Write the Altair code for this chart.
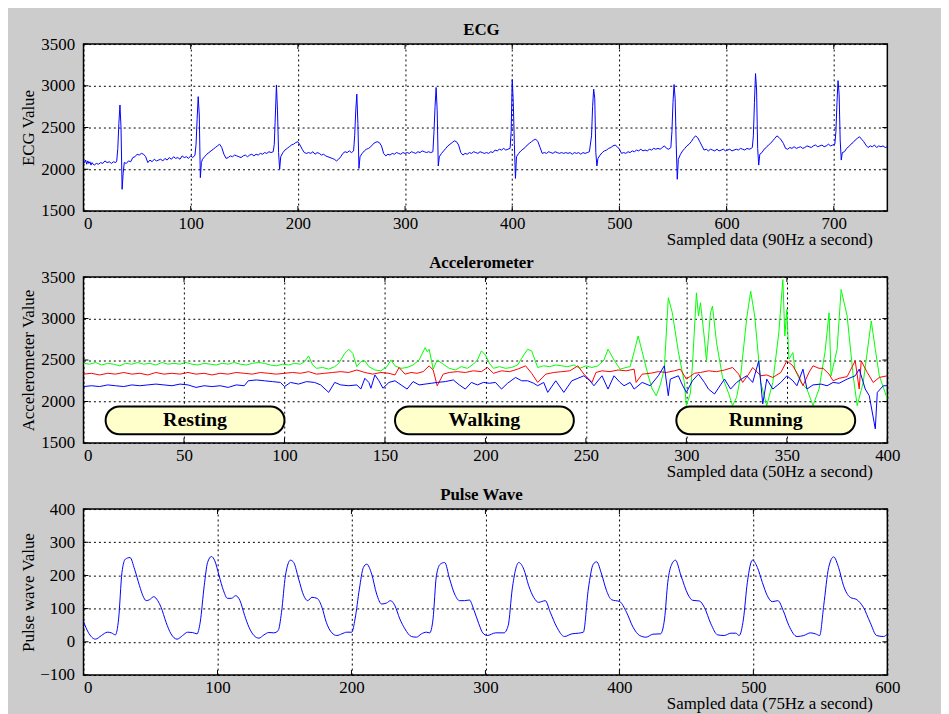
import altair as alt
import pandas as pd

FONT = "Liberation Serif"

# ---------------- ECG (sample index, value) ----------------
ECG = [
    (0, 2100), (1, 2080), (2, 2110), (3, 2060), (4, 2100), (5, 2070), (6, 2090), (7, 2050), (8, 2080),
    (9, 2060), (10, 2050), (12, 2070), (14, 2060), (16, 2080), (18, 2070), (20, 2100), (22, 2080),
    (24, 2090), (26, 2070), (28, 2090), (30, 2080), (31, 2100), (32, 2250), (33, 2550), (34, 2770),
    (35, 2500), (36, 1760), (37, 1950), (38, 2080), (40, 2070), (42, 2100), (44, 2090), (46, 2140),
    (48, 2150), (50, 2180), (52, 2170), (54, 2190), (56, 2180), (58, 2150), (60, 2080), (62, 2110),
    (64, 2090), (66, 2120), (68, 2100), (70, 2110), (72, 2120), (74, 2100), (76, 2130), (78, 2110),
    (80, 2140), (82, 2120), (84, 2150), (86, 2130), (88, 2140), (90, 2120), (92, 2160), (94, 2140),
    (96, 2150), (98, 2130), (100, 2160), (102, 2140), (104, 2170), (105, 2300), (106, 2600),
    (107, 2870), (108, 2650), (109, 1900), (110, 2080), (111, 2120), (113, 2150), (115, 2180),
    (117, 2200), (119, 2220), (121, 2240), (123, 2260), (125, 2280), (127, 2300), (129, 2260),
    (131, 2180), (133, 2130), (135, 2140), (137, 2160), (139, 2150), (141, 2170), (143, 2160),
    (145, 2150), (147, 2140), (149, 2160), (151, 2170), (153, 2150), (155, 2170), (157, 2180),
    (159, 2160), (161, 2180), (163, 2170), (165, 2190), (167, 2180), (169, 2200), (171, 2190),
    (173, 2210), (175, 2200), (177, 2210), (178, 2300), (179, 2650), (180, 3010), (181, 2700),
    (182, 2200), (183, 2000), (184, 2150), (186, 2200), (188, 2230), (190, 2250), (192, 2270),
    (194, 2290), (196, 2300), (198, 2320), (200, 2330), (202, 2290), (204, 2240), (206, 2200),
    (208, 2190), (210, 2200), (212, 2190), (214, 2210), (216, 2180), (218, 2200), (220, 2190),
    (222, 2170), (224, 2180), (226, 2160), (228, 2150), (230, 2140), (232, 2130), (234, 2120),
    (236, 2100), (238, 2120), (240, 2150), (242, 2190), (244, 2210), (246, 2200), (248, 2220),
    (250, 2200), (252, 2220), (253, 2400), (254, 2700), (255, 2900), (256, 2550), (257, 2010),
    (258, 2150), (260, 2190), (262, 2220), (264, 2240), (266, 2250), (268, 2270), (270, 2300),
    (272, 2320), (274, 2330), (276, 2320), (278, 2280), (280, 2190), (282, 2160), (284, 2180),
    (286, 2170), (288, 2190), (290, 2180), (292, 2200), (294, 2190), (296, 2180), (298, 2200),
    (300, 2190), (302, 2200), (304, 2190), (306, 2210), (308, 2200), (310, 2190), (312, 2210),
    (314, 2200), (316, 2220), (318, 2210), (320, 2200), (322, 2210), (324, 2200), (326, 2210),
    (327, 2450), (328, 2750), (329, 2980), (330, 2700), (331, 2040), (332, 2150), (334, 2190),
    (336, 2220), (338, 2250), (340, 2280), (342, 2300), (344, 2320), (346, 2340), (348, 2330),
    (350, 2290), (352, 2200), (354, 2170), (356, 2190), (358, 2180), (360, 2200), (362, 2190),
    (364, 2210), (366, 2200), (368, 2190), (370, 2210), (372, 2200), (374, 2190), (376, 2200),
    (378, 2190), (380, 2210), (382, 2200), (384, 2230), (386, 2220), (388, 2240), (390, 2230),
    (392, 2250), (394, 2230), (396, 2240), (398, 2250), (399, 2450), (400, 3075), (401, 2800),
    (402, 2300), (403, 1890), (404, 2150), (406, 2190), (408, 2220), (410, 2240), (412, 2260),
    (414, 2290), (416, 2310), (418, 2330), (420, 2350), (422, 2360), (424, 2330), (426, 2260),
    (428, 2190), (430, 2200), (432, 2190), (434, 2210), (436, 2200), (438, 2190), (440, 2210),
    (442, 2200), (444, 2190), (446, 2200), (448, 2190), (450, 2200), (452, 2190), (454, 2200),
    (456, 2180), (458, 2200), (460, 2190), (462, 2200), (464, 2180), (466, 2200), (468, 2190),
    (470, 2200), (472, 2210), (474, 2400), (475, 2750), (476, 2960), (477, 2850), (478, 2200),
    (479, 2040), (480, 2130), (482, 2170), (484, 2200), (486, 2220), (488, 2230), (490, 2250),
    (492, 2260), (494, 2280), (496, 2290), (498, 2270), (500, 2240), (502, 2190), (504, 2200),
    (506, 2190), (508, 2210), (510, 2200), (512, 2220), (514, 2210), (516, 2230), (518, 2220),
    (520, 2240), (522, 2220), (524, 2230), (526, 2220), (528, 2240), (530, 2230), (532, 2250),
    (534, 2240), (536, 2250), (538, 2240), (540, 2260), (542, 2280), (544, 2250), (546, 2240),
    (548, 2260), (549, 2450), (550, 2800), (551, 3015), (552, 2850), (553, 2300), (554, 1880),
    (555, 2120), (557, 2180), (559, 2220), (561, 2250), (563, 2280), (565, 2300), (567, 2330),
    (569, 2370), (571, 2400), (573, 2380), (575, 2330), (577, 2280), (579, 2230), (581, 2240),
    (583, 2220), (585, 2240), (587, 2230), (589, 2220), (591, 2240), (593, 2220), (595, 2230),
    (597, 2240), (599, 2220), (601, 2230), (603, 2240), (605, 2220), (607, 2230), (609, 2240),
    (611, 2230), (613, 2250), (615, 2240), (617, 2230), (619, 2250), (621, 2240), (623, 2250),
    (624, 2260), (625, 2400), (626, 2800), (627, 3146), (628, 2950), (629, 2250), (630, 2050),
    (631, 2180), (633, 2200), (635, 2240), (637, 2260), (639, 2290), (641, 2310), (643, 2340),
    (645, 2370), (647, 2400), (649, 2380), (651, 2350), (653, 2310), (655, 2250), (657, 2240),
    (659, 2260), (661, 2250), (663, 2270), (665, 2250), (667, 2260), (669, 2270), (671, 2250),
    (673, 2260), (675, 2280), (677, 2270), (679, 2260), (681, 2280), (683, 2290), (685, 2270),
    (687, 2280), (689, 2290), (691, 2270), (693, 2280), (695, 2300), (697, 2280), (699, 2290),
    (701, 2300), (702, 2450), (703, 2800), (704, 3062), (705, 2900), (706, 2350), (707, 2110),
    (708, 2200), (710, 2210), (712, 2250), (714, 2270), (716, 2300), (718, 2320), (720, 2350),
    (722, 2370), (724, 2390), (726, 2360), (728, 2330), (730, 2290), (732, 2260), (734, 2280),
    (736, 2270), (738, 2290), (740, 2260), (742, 2280), (744, 2270), (746, 2280), (748, 2260),
    (750, 2270),
]

# ---------------- Accelerometer (three axes) ----------------
ACC_GREEN = [
    (0, 2460), (3, 2450), (6, 2470), (9, 2440), (12, 2460), (15, 2450), (18, 2430), (21, 2460),
    (24, 2450), (27, 2470), (30, 2450), (33, 2460), (36, 2440), (39, 2470), (42, 2450), (45, 2460),
    (48, 2450), (51, 2470), (54, 2450), (57, 2440), (60, 2460), (63, 2450), (66, 2440), (69, 2460),
    (72, 2450), (75, 2470), (78, 2450), (81, 2440), (84, 2460), (87, 2470), (90, 2460), (93, 2440),
    (96, 2430), (99, 2450), (102, 2440), (105, 2460), (108, 2450), (110, 2480), (112, 2550),
    (114, 2440), (116, 2400), (119, 2410), (122, 2390), (125, 2420), (127, 2460), (130, 2580),
    (132, 2630), (134, 2580), (136, 2420), (138, 2480), (140, 2490), (142, 2420), (145, 2380),
    (148, 2370), (151, 2420), (153, 2500), (155, 2430), (158, 2400), (161, 2410), (164, 2440),
    (167, 2500), (170, 2650), (171, 2600), (172, 2630), (174, 2390), (176, 2500), (179, 2450),
    (182, 2400), (185, 2380), (188, 2420), (191, 2400), (194, 2450), (196, 2500), (198, 2610),
    (200, 2560), (202, 2460), (204, 2400), (207, 2420), (210, 2400), (213, 2410), (216, 2440),
    (218, 2520), (221, 2630), (223, 2610), (226, 2410), (229, 2430), (232, 2420), (235, 2440),
    (238, 2430), (241, 2420), (244, 2440), (247, 2400), (250, 2430), (253, 2410), (256, 2430),
    (259, 2500), (261, 2630), (264, 2500), (267, 2390), (270, 2410), (272, 2420), (274, 2600),
    (276, 2790), (278, 2600), (281, 2310), (283, 2150), (285, 2070), (287, 2200), (289, 2390),
    (291, 3250), (293, 3070), (296, 2600), (299, 2230), (300, 1950), (302, 2100), (303, 2430),
    (305, 3310), (306, 3030), (307, 3190), (309, 2750), (310, 2490), (312, 3070), (313, 3150),
    (315, 2710), (318, 2290), (321, 2100), (323, 1950), (325, 2050), (327, 2310), (330, 3000),
    (332, 3330), (334, 3030), (337, 2230), (340, 1950), (343, 2230), (346, 2830), (348, 3470),
    (349, 2790), (350, 3110), (351, 2510), (353, 2590), (354, 2390), (357, 2230), (360, 2150),
    (363, 1950), (366, 2150), (369, 2600), (371, 3070), (372, 2310), (375, 2630), (377, 3350),
    (380, 3030), (383, 2310), (385, 1950), (388, 2230), (392, 2970), (394, 2630), (396, 2310),
    (400, 2030),
]

ACC_RED = [
    (0, 2330), (4, 2340), (8, 2320), (12, 2340), (16, 2330), (20, 2350), (24, 2330), (28, 2340),
    (32, 2320), (36, 2350), (40, 2330), (44, 2340), (48, 2330), (52, 2350), (56, 2330), (60, 2340),
    (64, 2320), (68, 2340), (72, 2330), (76, 2350), (80, 2340), (84, 2330), (88, 2350), (92, 2340),
    (96, 2330), (100, 2340), (104, 2350), (108, 2340), (112, 2360), (116, 2330), (120, 2340),
    (124, 2350), (128, 2360), (132, 2350), (136, 2380), (140, 2350), (144, 2330), (148, 2350),
    (152, 2340), (155, 2320), (157, 2410), (160, 2330), (163, 2350), (166, 2340), (169, 2360),
    (172, 2430), (174, 2380), (176, 2190), (179, 2330), (182, 2350), (186, 2360), (190, 2350),
    (194, 2370), (198, 2360), (201, 2410), (204, 2340), (208, 2370), (212, 2360), (216, 2390),
    (220, 2430), (223, 2340), (226, 2230), (230, 2330), (234, 2350), (238, 2360), (242, 2370),
    (246, 2430), (249, 2330), (253, 2230), (255, 2350), (258, 2370), (262, 2360), (266, 2380),
    (270, 2370), (274, 2390), (275, 2230), (278, 2330), (282, 2340), (286, 2360), (290, 2350),
    (294, 2370), (297, 2390), (300, 2270), (304, 2340), (307, 2350), (311, 2370), (315, 2360),
    (319, 2380), (323, 2410), (326, 2330), (328, 2230), (331, 2330), (333, 2410), (337, 2310),
    (340, 2320), (343, 2290), (347, 2350), (350, 2490), (353, 2430), (356, 2300), (358, 2190),
    (361, 2350), (363, 2430), (366, 2400), (368, 2400), (371, 2330), (373, 2250), (376, 2280),
    (380, 2300), (384, 2490), (386, 2150), (387, 2490), (390, 2350), (393, 2230), (396, 2290),
    (400, 2310),
]

ACC_BLUE = [
    (0, 2180), (4, 2190), (8, 2180), (12, 2200), (16, 2190), (20, 2180), (24, 2200), (28, 2190),
    (32, 2200), (36, 2210), (40, 2200), (44, 2190), (48, 2210), (52, 2200), (56, 2170), (60, 2190),
    (64, 2180), (68, 2190), (72, 2170), (76, 2200), (80, 2190), (82, 2250), (86, 2260), (90, 2250),
    (94, 2240), (98, 2230), (100, 2180), (103, 2230), (107, 2210), (111, 2240), (115, 2230),
    (118, 2200), (122, 2110), (125, 2230), (128, 2200), (132, 2190), (136, 2200), (138, 2150),
    (140, 2280), (142, 2230), (143, 2160), (145, 2320), (147, 2250), (149, 2160), (152, 2230),
    (155, 2250), (158, 2200), (161, 2150), (164, 2240), (167, 2200), (170, 2210), (173, 2220),
    (176, 2230), (180, 2240), (184, 2260), (187, 2200), (190, 2150), (193, 2230), (196, 2200),
    (199, 2230), (202, 2220), (205, 2230), (208, 2150), (211, 2220), (215, 2290), (218, 2250),
    (221, 2250), (224, 2220), (226, 2190), (229, 2230), (231, 2110), (235, 2250), (239, 2110),
    (243, 2250), (246, 2280), (249, 2310), (252, 2250), (254, 2190), (258, 2310), (261, 2150),
    (264, 2310), (267, 2230), (269, 2190), (272, 2230), (274, 2150), (278, 2230), (282, 2190),
    (286, 2310), (289, 2430), (291, 2070), (292, 2270), (296, 2310), (298, 2200), (300, 2110),
    (303, 2250), (306, 2330), (309, 2230), (311, 2150), (314, 2090), (317, 2200), (319, 2270),
    (322, 2150), (325, 2230), (328, 2280), (330, 2310), (333, 2230), (336, 2490), (338, 1970),
    (340, 2270), (343, 2150), (347, 2230), (350, 2310), (353, 2250), (355, 2190), (358, 2390),
    (360, 2150), (363, 2200), (367, 2210), (370, 2190), (373, 2230), (376, 2220), (380, 2270),
    (384, 2310), (386, 2390), (389, 2150), (391, 2070), (394, 1670), (395, 2110), (398, 2190),
    (400, 2190),
]

PHASE_NAMES = ["Resting", "Walking", "Running"]
PHASE_START = [11, 155, 295]
PHASE_END = [100, 244, 384]
PHASE_LOW = 1605
PHASE_HIGH = 1940

# ---------------- Pulse wave ----------------
PULSE = [
    (0, 61), (3.5, 29), (8.9, 8), (13.4, 19), (17.8, 29), (20.8, 27), (23.8, 21), (26.2, 69),
    (28.7, 209), (31.2, 249), (34.7, 254), (38.1, 219), (41.8, 169), (44.3, 139), (46.8, 124),
    (49.3, 127), (52.5, 136), (55.4, 124), (57.9, 104), (61.6, 59), (65.3, 24), (69.8, 8),
    (74, 19), (77.7, 29), (81.4, 28), (84.7, 24), (87.1, 59), (90.1, 169), (92.6, 239),
    (95.5, 257), (98, 244), (101.2, 199), (104.5, 154), (107.4, 131), (110.4, 131), (113.6, 139),
    (116.8, 124), (120.3, 79), (123.5, 44), (127.2, 19), (130.9, 11), (134.7, 21), (138.4, 28),
    (142.1, 27), (145.3, 34), (147.8, 89), (150.7, 199), (154.5, 246), (156.9, 239), (160.6, 189),
    (164.4, 139), (167.3, 124), (170.5, 134), (174.3, 131), (178, 104), (181.2, 59), (185.4, 27),
    (189.1, 19), (192.8, 24), (196.5, 29), (200.2, 29), (202.7, 69), (205.9, 159), (208.9, 224),
    (211.4, 234), (215.1, 204), (218.8, 144), (222.5, 114), (226.2, 117), (229.2, 124),
    (232.4, 109), (236.1, 69), (239.9, 39), (244.8, 16), (248.5, 14), (252.2, 24), (255.9, 29),
    (258.4, 27), (260.9, 69), (263.4, 199), (266.3, 234), (269.6, 239), (273.3, 189), (277, 144),
    (280.7, 124), (284.4, 124), (288, 126), (291.5, 95), (295, 55), (298, 27), (301.4, 19),
    (307.6, 27), (313.8, 27), (317, 49), (320, 159), (324.9, 239), (328.6, 219), (332.3, 169),
    (336, 134), (339.7, 119), (344.7, 124), (348.4, 89), (353.3, 44), (359, 16), (364.5, 24),
    (369.4, 26), (373.1, 29), (376.8, 159), (380.5, 234), (383, 241), (386.7, 204), (390.4, 154),
    (394.1, 127), (400.3, 121), (405.3, 89), (410.2, 44), (415.1, 19), (420, 14), (425, 23),
    (430.7, 24), (433.7, 69), (436.1, 179), (439.1, 234), (441.8, 246), (446, 199), (451, 144),
    (454.7, 125), (459.7, 123), (463.4, 104), (468.3, 54), (473.3, 21), (478.2, 19), (483.2, 26),
    (486.9, 26), (489.4, 19), (492.6, 69), (495.5, 179), (499.3, 246), (503, 224), (506.7, 179),
    (510.4, 139), (514.1, 121), (518.3, 124), (522.3, 94), (526.5, 49), (532.6, 16), (537.6, 19),
    (542.6, 27), (546.3, 24), (549.5, 19), (552.5, 109), (556.2, 224), (559.9, 256), (563.6, 224),
    (567.3, 169), (572.3, 134), (577.2, 127), (582.1, 104), (587.1, 59), (592, 19), (597, 16),
    (600, 23),
]

ECG_XTICKS = [0, 100, 200, 300, 400, 500, 600, 700]
ECG_YTICKS = [1500, 2000, 2500, 3000, 3500]
ACC_XTICKS = [0, 50, 100, 150, 200, 250, 300, 350, 400]
ACC_YTICKS = [1500, 2000, 2500, 3000, 3500]
PULSE_XTICKS = [0, 100, 200, 300, 400, 500, 600]
PULSE_YTICKS = [-100, 0, 100, 200, 300, 400]

PW = 809
TICK = 5


def frame(points):
    return pd.DataFrame(points, columns=["x", "y"])


def x_axis(title, ticks):
    return alt.Axis(
        values=ticks, title=title, grid=True, domain=False, ticks=False, format="d",
        labelAlign={"condition": {"test": "datum.value == 0", "value": "left"}, "value": "center"},
        labelPadding=5, titleAlign="right", titleAnchor="end", titleX=794, titleY=34,
        titleBaseline="alphabetic",
    )


def y_axis(title, ticks):
    return alt.Axis(
        values=ticks, title=title, grid=True, domain=False, ticks=False, format="d",
        labelPadding=9, titleX=-55, titleBaseline="middle",
    )


def title(text):
    return alt.TitleParams(text=text, font=FONT, fontSize=17, fontWeight="bold", color="black",
                           anchor="middle", frame="group", offset=0, dx=-4, dy=4)


def inner_ticks(xticks, yticks, xscale, yscale, xaxis, yaxis, h):
    """Short inward tick marks on all four sides of the frame."""
    xt = pd.DataFrame({"v": xticks})
    yt = pd.DataFrame({"v": yticks})
    xs = alt.X("v:Q", scale=xscale, axis=xaxis)
    ys = alt.Y("v:Q", scale=yscale, axis=yaxis)
    rule = dict(color="black", strokeWidth=1)
    return [
        alt.Chart(xt).mark_rule(**rule).encode(x=xs, y=alt.value(0), y2=alt.value(TICK)),
        alt.Chart(xt).mark_rule(**rule).encode(x=xs, y=alt.value(h - TICK), y2=alt.value(h)),
        alt.Chart(yt).mark_rule(**rule).encode(y=ys, x=alt.value(0), x2=alt.value(TICK)),
        alt.Chart(yt).mark_rule(**rule).encode(y=ys, x=alt.value(PW - TICK), x2=alt.value(PW)),
    ]


# ECG panel
ECG_H = 168
ecg_xs = alt.Scale(domain=[0, 750], nice=False, zero=False)
ecg_ys = alt.Scale(domain=[1500, 3500], nice=False, zero=False)
ecg_xa = x_axis("Sampled data (90Hz a second)", ECG_XTICKS)
ecg_ya = y_axis("ECG Value", ECG_YTICKS)
ecg_line = alt.Chart(frame(ECG)).mark_line(color="#0000ff", strokeWidth=1, clip=True).encode(
    x=alt.X("x:Q", scale=ecg_xs, axis=ecg_xa),
    y=alt.Y("y:Q", scale=ecg_ys, axis=ecg_ya),
)
ecg = alt.layer(ecg_line, *inner_ticks(ECG_XTICKS, ECG_YTICKS, ecg_xs, ecg_ys, ecg_xa, ecg_ya, ECG_H)).properties(
    width=PW, height=ECG_H, title=title("ECG"))

# Accelerometer panel
ACC_H = 167
acc_xs = alt.Scale(domain=[0, 400], nice=False, zero=False)
acc_ys = alt.Scale(domain=[1500, 3500], nice=False, zero=False)
acc_xa = x_axis("Sampled data (50Hz a second)", ACC_XTICKS)
acc_ya = y_axis("Accelerometer Value", ACC_YTICKS)
acc_x = alt.X("x:Q", scale=acc_xs, axis=acc_xa)
acc_y = alt.Y("y:Q", scale=acc_ys, axis=acc_ya)

green = alt.Chart(frame(ACC_GREEN)).mark_line(color="#00ff00", strokeWidth=1, clip=True).encode(x=acc_x, y=acc_y)
red = alt.Chart(frame(ACC_RED)).mark_line(color="#ff0000", strokeWidth=1, clip=True).encode(x=acc_x, y=acc_y)
blue = alt.Chart(frame(ACC_BLUE)).mark_line(color="#0000ff", strokeWidth=1, clip=True).encode(x=acc_x, y=acc_y)

phases = pd.DataFrame({
    "name": PHASE_NAMES,
    "x": PHASE_START,
    "x2": PHASE_END,
    "y": [PHASE_LOW] * 3,
    "y2": [PHASE_HIGH] * 3,
})
phases["xm"] = (phases["x"] + phases["x2"]) / 2
phases["ym"] = (phases["y"] + phases["y2"]) / 2

boxes = alt.Chart(phases).mark_rect(cornerRadius=14, fill="#ffffcc", stroke="black", strokeWidth=2).encode(
    x=alt.X("x:Q", scale=acc_xs, axis=acc_xa), x2="x2:Q",
    y=alt.Y("y:Q", scale=acc_ys, axis=acc_ya), y2="y2:Q")
labels = alt.Chart(phases).mark_text(font=FONT, fontSize=20, fontWeight="bold", color="black").encode(
    x=alt.X("xm:Q", scale=acc_xs, axis=acc_xa),
    y=alt.Y("ym:Q", scale=acc_ys, axis=acc_ya), text="name:N")

acc = alt.layer(green, red, blue,
                *inner_ticks(ACC_XTICKS, ACC_YTICKS, acc_xs, acc_ys, acc_xa, acc_ya, ACC_H),
                boxes, labels).properties(width=PW, height=ACC_H, title=title("Accelerometer"))

# Pulse panel
PULSE_H = 167
pulse_xs = alt.Scale(domain=[0, 600], nice=False, zero=False)
pulse_ys = alt.Scale(domain=[-100, 400], nice=False, zero=False)
pulse_xa = x_axis("Sampled data (75Hz a second)", PULSE_XTICKS)
pulse_ya = y_axis("Pulse wave Value", PULSE_YTICKS)
pulse_line = alt.Chart(frame(PULSE)).mark_line(color="#0000ff", strokeWidth=1, interpolate="monotone",
                                               clip=True).encode(
    x=alt.X("x:Q", scale=pulse_xs, axis=pulse_xa),
    y=alt.Y("y:Q", scale=pulse_ys, axis=pulse_ya),
)
pulse = alt.layer(pulse_line,
                  *inner_ticks(PULSE_XTICKS, PULSE_YTICKS, pulse_xs, pulse_ys, pulse_xa, pulse_ya, PULSE_H)
                  ).properties(width=PW, height=PULSE_H, title=title("Pulse Wave"))

chart = alt.vconcat(ecg, acc, pulse, spacing=66.5, bounds="flush").properties(
    background="#cccccc",
    padding={"left": 11, "top": 10, "right": 40, "bottom": 6},
).configure_view(
    fill="white", stroke="black", strokeWidth=1.5,
).configure_axis(
    labelFont=FONT, labelFontSize=17, labelColor="black",
    titleFont=FONT, titleFontSize=17, titleFontWeight="normal", titleColor="black",
    gridColor="black", gridDash=[2, 3], gridWidth=1, gridOpacity=1,
)

chart.save("out.html", embed_options={"renderer": "svg", "actions": False})
